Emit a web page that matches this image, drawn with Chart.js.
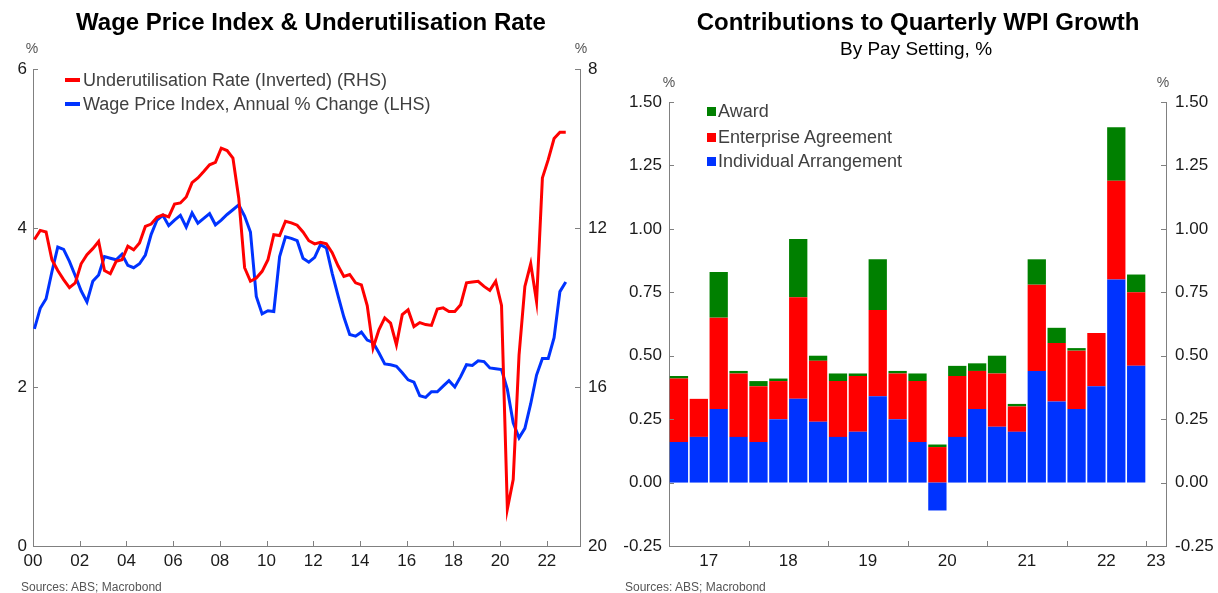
<!DOCTYPE html>
<html>
<head>
<meta charset="utf-8">
<script src="https://cdn.jsdelivr.net/npm/chart.js@4.4.0/dist/chart.umd.min.js"></script>
<style>
  body { margin: 0; background: #fff; font-family: "Liberation Sans", Arial, sans-serif; }
  #wrap { position: relative; width: 1218px; height: 593px; overflow: hidden; }
  canvas { position: absolute; top: 0; }
  .t { position: absolute; white-space: nowrap; line-height: 22px; }
  .title { font-weight: bold; font-size: 24px; color: #000; transform: translate(-50%, -50%); }
  .sub { font-size: 19px; color: #000; transform: translate(-50%, -50%); }
  .unit { font-size: 14px; color: #555; transform: translate(-50%, -50%); }
  .src { font-size: 12px; color: #555; }
  .leg { font-size: 18px; color: #404040; }
  .line { position: absolute; width: 15px; height: 4px; }
  .box { position: absolute; width: 9px; height: 9px; }
</style>
</head>
<body>
<div id="wrap">
  <canvas id="left" width="625" height="593" style="left:0"></canvas>
  <canvas id="right" width="609" height="593" style="left:609px"></canvas>

  <div class="t title" style="left:311px;top:22px">Wage Price Index &amp; Underutilisation Rate</div>
  <div class="t unit" style="left:32px;top:48px">%</div>
  <div class="t unit" style="left:581px;top:48px">%</div>
  <div class="line" style="left:65px;top:78px;background:#ff0000"></div>
  <div class="t leg" style="left:83px;top:69px">Underutilisation Rate (Inverted) (RHS)</div>
  <div class="line" style="left:65px;top:102px;background:#0033ff"></div>
  <div class="t leg" style="left:83px;top:93px">Wage Price Index, Annual % Change (LHS)</div>
  <div class="t src" style="left:21px;top:576px">Sources: ABS; Macrobond</div>

  <div class="t title" style="left:918px;top:22px">Contributions to Quarterly WPI Growth</div>
  <div class="t sub" style="left:916px;top:49px">By Pay Setting, %</div>
  <div class="t unit" style="left:669px;top:82px">%</div>
  <div class="t unit" style="left:1163px;top:82px">%</div>
  <div class="box" style="left:707px;top:107px;background:#008000"></div>
  <div class="t leg" style="left:718px;top:100px">Award</div>
  <div class="box" style="left:707px;top:133px;background:#ff0000"></div>
  <div class="t leg" style="left:718px;top:126px">Enterprise Agreement</div>
  <div class="box" style="left:707px;top:157px;background:#0033ff"></div>
  <div class="t leg" style="left:718px;top:150px">Individual Arrangement</div>
  <div class="t src" style="left:625px;top:576px">Sources: ABS; Macrobond</div>
</div>

<script>
// ---- left chart data: quarterly, 2000Q1 .. 2022Q4 ----
const wpiStartYear = 2000;
const wpiAnnual = [
  2.73, 2.99, 3.11, 3.45, 3.76, 3.73, 3.58, 3.40, 3.21, 3.07,
  3.33, 3.41, 3.64, 3.62, 3.60, 3.67, 3.53, 3.50, 3.55, 3.66,
  3.92, 4.10, 4.16, 4.03, 4.10, 4.16, 4.01, 4.19, 4.06, 4.12,
  4.18, 4.04, 4.10, 4.17, 4.23, 4.29, 4.15, 3.95, 3.14, 2.92,
  2.96, 2.95, 3.64, 3.89, 3.87, 3.84, 3.62, 3.57, 3.63, 3.79,
  3.75, 3.43, 3.15, 2.88, 2.66, 2.64, 2.69, 2.59, 2.56, 2.43,
  2.29, 2.28, 2.26, 2.18, 2.09, 2.06, 1.89, 1.87, 1.94, 1.94,
  2.01, 2.08, 2.00, 2.13, 2.28, 2.27, 2.33, 2.32, 2.24, 2.23,
  2.22, 1.97, 1.55, 1.36, 1.48, 1.79, 2.15, 2.36, 2.36, 2.62,
  3.20, 3.32
];
const underutilisation = [
  12.29, 12.06, 12.10, 12.80, 13.07, 13.30, 13.50, 13.38, 12.90, 12.67,
  12.52, 12.34, 13.07, 13.15, 12.84, 12.80, 12.46, 12.55, 12.38, 11.96,
  11.90, 11.73, 11.67, 11.72, 11.40, 11.37, 11.22, 10.86, 10.74, 10.58,
  10.41, 10.35, 9.99, 10.05, 10.24, 11.25, 13.00, 13.34, 13.26, 13.09,
  12.80, 12.17, 12.19, 11.83, 11.87, 11.93, 12.10, 12.32, 12.40, 12.36,
  12.40, 12.62, 12.95, 13.22, 13.17, 13.38, 13.43, 13.95, 15.02, 14.56,
  14.26, 14.39, 14.94, 14.18, 14.06, 14.48, 14.38, 14.43, 14.45, 14.04,
  14.01, 14.10, 14.10, 13.93, 13.38, 13.36, 13.34, 13.47, 13.57, 13.34,
  13.95, 19.07, 18.33, 15.20, 13.47, 12.90, 13.85, 10.74, 10.28, 9.75,
  9.59, 9.59
];
const wpiYearTicks = [2000, 2002, 2004, 2006, 2008, 2010, 2012, 2014, 2016, 2018, 2020, 2022];

// ---- right chart data: quarterly, 2017Q1 .. 2022Q4 (2023Q1 slot empty) ----
const payQuarters = [
  "2017Q1", "2017Q2", "2017Q3", "2017Q4", "2018Q1", "2018Q2", "2018Q3", "2018Q4",
  "2019Q1", "2019Q2", "2019Q3", "2019Q4", "2020Q1", "2020Q2", "2020Q3", "2020Q4",
  "2021Q1", "2021Q2", "2021Q3", "2021Q4", "2022Q1", "2022Q2", "2022Q3", "2022Q4", "2023Q1"
];
const individual = [0.16, 0.18, 0.29, 0.18, 0.16, 0.25, 0.33, 0.24, 0.18, 0.20, 0.34, 0.25,
  0.16, -0.11, 0.18, 0.29, 0.22, 0.20, 0.44, 0.32, 0.29, 0.38, 0.80, 0.46];
const enterprise = [0.25, 0.15, 0.36, 0.25, 0.22, 0.15, 0.40, 0.24, 0.22, 0.22, 0.34, 0.18,
  0.24, 0.14, 0.24, 0.15, 0.21, 0.10, 0.34, 0.23, 0.23, 0.21, 0.39, 0.29];
const award = [0.01, 0.00, 0.18, 0.01, 0.02, 0.01, 0.23, 0.02, 0.03, 0.01, 0.20, 0.01,
  0.03, 0.01, 0.04, 0.03, 0.07, 0.01, 0.10, 0.06, 0.01, 0.00, 0.21, 0.07];
const payYearLabels = ["17", "18", "19", "20", "21", "22", "23"];

const FONT = "'Liberation Sans', Arial, sans-serif";
const AXIS = "#808080";
const TICK_TEXT = "#1a1a1a";
const TICK_FONT = { family: FONT, size: 17 };

// draws short tick marks pointing into the plot area
function inwardTicks(len, keep) {
  return {
    id: "inwardTicks",
    afterDatasetsDraw(chart) {
      const ctx = chart.ctx;
      const area = chart.chartArea;
      ctx.save();
      ctx.strokeStyle = AXIS;
      ctx.lineWidth = 1;
      Object.values(chart.scales).forEach((scale) => {
        if (!scale.options.display) return;
        scale.ticks.forEach((tick, i) => {
          if (keep && !keep(scale, tick)) return;
          const p = Math.round(scale.getPixelForTick(i)) + 0.5;
          ctx.beginPath();
          if (scale.isHorizontal()) {
            ctx.moveTo(p, area.bottom);
            ctx.lineTo(p, area.bottom - len);
          } else if (scale.position === "left") {
            ctx.moveTo(area.left, p);
            ctx.lineTo(area.left + len, p);
          } else {
            ctx.moveTo(area.right, p);
            ctx.lineTo(area.right - len, p);
          }
          ctx.stroke();
        });
      });
      ctx.restore();
    },
  };
}

function axisStyle(extra) {
  return Object.assign(
    {
      grid: { display: false, drawTicks: false },
      border: { display: true, color: AXIS, width: 1 },
    },
    extra
  );
}

// ---- left chart ----
const wpiDates = wpiAnnual.map((_, i) => wpiStartYear + 0.06 + i * 0.25);

new Chart(document.getElementById("left"), {
  type: "line",
  data: {
    datasets: [
      {
        label: "Underutilisation Rate (Inverted) (RHS)",
        data: underutilisation.map((v, i) => ({ x: wpiDates[i], y: v })),
        yAxisID: "y1",
        borderColor: "#ff0000",
        borderWidth: 3,
        pointRadius: 0,
        tension: 0,
      },
      {
        label: "Wage Price Index, Annual % Change (LHS)",
        data: wpiAnnual.map((v, i) => ({ x: wpiDates[i], y: v })),
        yAxisID: "y",
        borderColor: "#0033ff",
        borderWidth: 3,
        pointRadius: 0,
        tension: 0,
      },
    ],
  },
  options: {
    responsive: false,
    animation: false,
    layout: { padding: { top: 69, left: 0, right: 0, bottom: 0 } },
    plugins: { legend: { display: false }, tooltip: { enabled: false } },
    scales: {
      x: axisStyle({
        type: "linear",
        min: 2000,
        max: 2023.42,
        afterBuildTicks: (s) => { s.ticks = wpiYearTicks.map((v) => ({ value: v })); },
        afterFit: (s) => { s.height = 47; },
        ticks: {
          color: TICK_TEXT, font: TICK_FONT, padding: 5, maxRotation: 0,
          callback: (v) => String(v % 100).padStart(2, "0"),
        },
      }),
      y: axisStyle({
        position: "left",
        min: 0,
        max: 6,
        afterFit: (s) => { s.width = 33; },
        ticks: { color: TICK_TEXT, font: TICK_FONT, stepSize: 2, padding: 6 },
      }),
      y1: axisStyle({
        position: "right",
        reverse: true,
        min: 8,
        max: 20,
        afterFit: (s) => { s.width = 45; },
        ticks: { color: TICK_TEXT, font: TICK_FONT, stepSize: 4, padding: 8 },
      }),
    },
  },
  plugins: [inwardTicks(5)],
});

// ---- right chart ----
new Chart(document.getElementById("right"), {
  type: "bar",
  data: {
    labels: payQuarters,
    datasets: [
      { label: "Individual Arrangement", data: individual, backgroundColor: "#0033ff" },
      { label: "Enterprise Agreement", data: enterprise, backgroundColor: "#ff0000" },
      { label: "Award", data: award, backgroundColor: "#008000" },
    ].map((d) => Object.assign(d, {
      xAxisID: "x",
      yAxisID: "y",
      borderWidth: 0,
      barPercentage: 0.92,
      categoryPercentage: 1,
    })),
  },
  options: {
    responsive: false,
    animation: false,
    layout: { padding: { top: 102, left: 0, right: 0, bottom: 0 } },
    plugins: { legend: { display: false }, tooltip: { enabled: false } },
    scales: {
      x: { display: false, stacked: true, offset: true, grid: { display: false } },
      x2: axisStyle({
        type: "linear",
        position: "bottom",
        offset: false,
        min: 2017,
        max: 2023.25,
        afterBuildTicks: (s) => {
          const ticks = [];
          payYearLabels.forEach((lab, k) => {
            const y0 = 2017 + k;
            const a = Math.max(y0, s.min);
            const b = Math.min(y0 + 1, s.max);
            ticks.push({ value: (a + b) / 2, label: lab });
            if (y0 + 1 <= s.max) ticks.push({ value: y0 + 1, label: "" });
          });
          s.ticks = ticks;
        },
        afterFit: (s) => { s.height = 47; },
        ticks: {
          color: TICK_TEXT, font: TICK_FONT, padding: 5, maxRotation: 0, autoSkip: false,
          callback: function (v, i, ticks) { return ticks[i].label; },
        },
      }),
      y: axisStyle({
        position: "left",
        stacked: true,
        min: -0.25,
        max: 1.5,
        afterFit: (s) => { s.width = 60; },
        ticks: {
          color: TICK_TEXT, font: TICK_FONT, stepSize: 0.25, padding: 7,
          callback: (v) => v.toFixed(2),
        },
      }),
      y1: axisStyle({
        position: "right",
        min: -0.25,
        max: 1.5,
        afterFit: (s) => { s.width = 52; },
        ticks: {
          color: TICK_TEXT, font: TICK_FONT, stepSize: 0.25, padding: 9,
          callback: (v) => v.toFixed(2),
        },
      }),
    },
  },
  plugins: [inwardTicks(5, (scale, tick) => scale.id !== "x2" || Number.isInteger(tick.value))],
});
</script>
</body>
</html>
